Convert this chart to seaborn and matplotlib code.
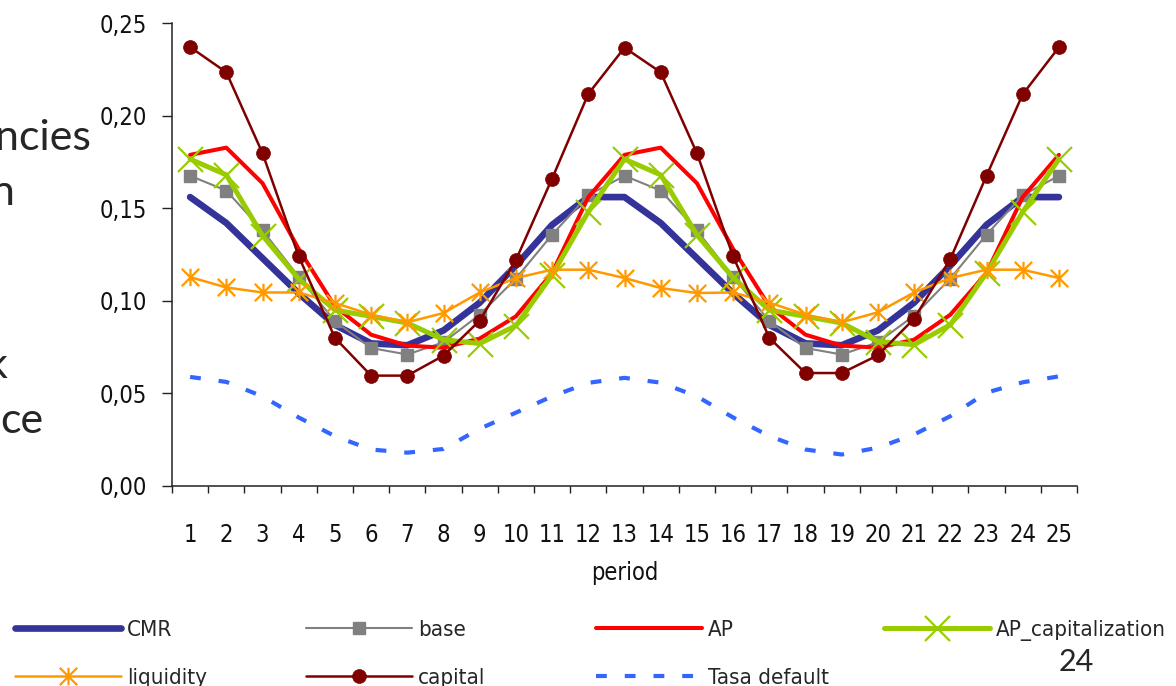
import numpy as np
import pandas as pd
import matplotlib
matplotlib.use("Agg")
import matplotlib.pyplot as plt
import seaborn as sns
from matplotlib import font_manager
from matplotlib.path import Path
from matplotlib.ticker import FuncFormatter

# ---------------- data ----------------
periods = list(range(1, 26))

cmr = [0.156, 0.142, 0.123, 0.104, 0.087, 0.077, 0.076, 0.084, 0.099, 0.119, 0.141, 0.156,
       0.156, 0.142, 0.123, 0.104, 0.087, 0.077, 0.076, 0.084, 0.099, 0.119, 0.141, 0.156, 0.156]
base = [0.1675, 0.1595, 0.138, 0.113, 0.089, 0.0745, 0.071, 0.0776, 0.0925, 0.112, 0.1357, 0.157,
        0.1675, 0.1595, 0.138, 0.113, 0.089, 0.0745, 0.071, 0.0776, 0.092, 0.112, 0.1357, 0.157, 0.1675]
ap = [0.1788, 0.1827, 0.1635, 0.128, 0.097, 0.0817, 0.0758, 0.0747, 0.0796, 0.0916, 0.115, 0.156,
      0.1788, 0.1827, 0.1635, 0.128, 0.097, 0.0817, 0.0758, 0.0747, 0.079, 0.0925, 0.115, 0.156, 0.1788]
ap_cap = [0.1765, 0.168, 0.1352, 0.1118, 0.095, 0.0916, 0.088, 0.079, 0.0769, 0.0866, 0.114, 0.148,
          0.1765, 0.168, 0.1356, 0.1125, 0.095, 0.0916, 0.088, 0.078, 0.0763, 0.0871, 0.115, 0.148, 0.1765]
liquidity = [0.1128, 0.1072, 0.1045, 0.1045, 0.0988, 0.0925, 0.0884, 0.0934, 0.1045, 0.1123, 0.1168, 0.1168,
             0.1123, 0.1069, 0.1042, 0.1045, 0.099, 0.0925, 0.0884, 0.0938, 0.1045, 0.1123, 0.1168, 0.1168, 0.1123]
capital = [0.237, 0.2234, 0.1797, 0.124, 0.080, 0.0596, 0.0596, 0.0704, 0.0893, 0.122, 0.166, 0.2117,
           0.2367, 0.2234, 0.1797, 0.124, 0.080, 0.061, 0.061, 0.0706, 0.0903, 0.1225, 0.1675, 0.2115, 0.2369]
tasa_default = [0.0589, 0.0562, 0.0484, 0.037, 0.0269, 0.0197, 0.018, 0.020, 0.0309, 0.0396, 0.0484, 0.0557,
                0.0584, 0.0558, 0.0484, 0.037, 0.027, 0.0197, 0.017, 0.0207, 0.0278, 0.0377, 0.0504, 0.056, 0.0592]

series_names = ["CMR", "base", "AP", "AP_capitalization", "liquidity", "capital", "Tasa default"]
y_ticks = [0.00, 0.05, 0.10, 0.15, 0.20, 0.25]
x_label = "period"

# ---------------- style ----------------
sns.set_theme(style="white")

# look for a condensed / narrow sans face (the chart uses an Arial-Narrow-like face)
condensed_family = None
condensed_stretch = "normal"
for f in font_manager.fontManager.ttflist:
    fn = f.fname.lower()
    if ("narrow" in fn or "condensed" in fn) and "bold" not in fn and "italic" not in fn \
            and "oblique" not in fn and "light" not in fn:
        condensed_family = f.name
        condensed_stretch = f.stretch
        break

if condensed_family is not None:
    plt.rcParams["font.family"] = [condensed_family, "DejaVu Sans"]
    plt.rcParams["font.stretch"] = condensed_stretch
    tick_fs, leg_fs = 17, 16
else:
    plt.rcParams["font.family"] = ["Liberation Sans", "DejaVu Sans"]
    tick_fs, leg_fs = 15.5, 14.5

available = {f.name for f in font_manager.fontManager.ttflist}
slide_font = ["Lato", "DejaVu Sans"] if "Lato" in available else ["DejaVu Sans"]

W, H = 1176, 686
fig = plt.figure(figsize=(W / 100, H / 100), dpi=100)
ax = fig.add_axes([172 / W, 1 - 486 / H, 905 / W, 463 / H])

star = Path([(0, -1), (0, 1), (-1, -1), (1, 1), (-1, 1), (1, -1)],
            [Path.MOVETO, Path.LINETO, Path.MOVETO, Path.LINETO, Path.MOVETO, Path.LINETO])

df = pd.DataFrame({"period": periods, "CMR": cmr, "base": base, "AP": ap,
                   "AP_capitalization": ap_cap, "liquidity": liquidity,
                   "capital": capital, "Tasa default": tasa_default})

styles = {
    "CMR": dict(color="#333399", lw=4.8, solid_capstyle="round"),
    "base": dict(color="#808080", lw=1.5, marker="s", markersize=9,
                 markeredgecolor="#808080", markerfacecolor="#808080", markeredgewidth=1),
    "AP": dict(color="#FF0000", lw=2.9, solid_capstyle="round"),
    "AP_capitalization": dict(color="#99CC00", lw=3.6, marker="x", markersize=18,
                              markeredgecolor="#99CC00", markeredgewidth=1.6),
    "liquidity": dict(color="#FF9900", lw=1.8, marker=star, markersize=12.5,
                      markeredgecolor="#FF9900", markeredgewidth=1.6),
    "capital": dict(color="#800000", lw=1.8, marker="o", markersize=10,
                    markeredgecolor="#800000", markerfacecolor="#800000", markeredgewidth=0.5),
    "Tasa default": dict(color="#3366FF", lw=3.0),
}

handles = {}
for name in series_names:
    st = styles[name]
    sns.lineplot(data=df, x="period", y=name, ax=ax, label=name, **st)
    line = ax.lines[-1]
    if name == "Tasa default":
        line.set_linestyle((0, (2.6, 4.3)))
        line.set_dash_capstyle("butt")
    handles[name] = line

if ax.get_legend() is not None:
    ax.get_legend().remove()

# axes formatting
ax.set_xlim(periods[0] - 0.5, periods[-1] + 0.5)
ax.set_ylim(y_ticks[0], y_ticks[-1])
ax.set_xticks(periods)
ax.set_xticklabels([str(p) for p in periods])
ax.set_xticks([p - 0.5 for p in periods] + [periods[-1] + 0.5], minor=True)
ax.set_yticks(y_ticks)
ax.yaxis.set_major_formatter(FuncFormatter(lambda v, _: f"{v:.2f}".replace(".", ",")))
ax.tick_params(axis="x", which="major", length=0, pad=27, labelsize=tick_fs, colors="#111111")
ax.tick_params(axis="x", which="minor", length=5, width=1, color="#222222", direction="out", bottom=True)
ax.tick_params(axis="y", which="major", length=7, width=1, color="#222222", direction="out",
               pad=11, labelsize=tick_fs, left=True, labelcolor="#111111")
ax.set_xlabel(x_label, fontsize=tick_fs, labelpad=10, color="#111111")
ax.set_ylabel("")
for s in ["top", "right"]:
    ax.spines[s].set_visible(False)
for s in ["left", "bottom"]:
    ax.spines[s].set_color("#222222")
    ax.spines[s].set_linewidth(1.1)
ax.grid(False)

# legend: four columns on a fixed grid
leg_px = leg_fs * 100 / 72
cols = [(["CMR", "liquidity"], 15), (["base", "capital"], 306),
        (["AP", "Tasa default"], 596), (["AP_capitalization"], 884)]
for names, x0 in cols:
    fig.legend([handles[n] for n in names], names, loc="upper left",
               bbox_to_anchor=(x0 / W, 1 - 620 / H), frameon=False, fontsize=leg_fs,
               handlelength=106 / leg_px, handletextpad=6 / leg_px, labelspacing=28 / leg_px,
               borderpad=0, borderaxespad=0)

# fragments of the slide text around the chart
fig.text(91 / W, 1 - 150 / H, "ncies", ha="right", va="baseline", fontsize=31, family=slide_font)
fig.text(15 / W, 1 - 205 / H, "n", ha="right", va="baseline", fontsize=31, family=slide_font)
fig.text(8 / W, 1 - 378 / H, "k", ha="right", va="baseline", fontsize=31, family=slide_font)
fig.text(43 / W, 1 - 433 / H, "ce", ha="right", va="baseline", fontsize=31, family=slide_font)
fig.text(1076 / W, 1 - 671 / H, "24", ha="center", va="baseline", fontsize=22, family=slide_font)

fig.savefig("out.png", dpi=100, facecolor="white")
